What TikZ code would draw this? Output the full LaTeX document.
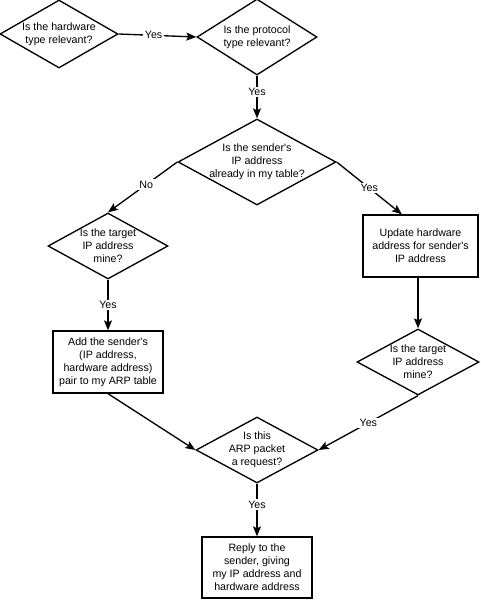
\documentclass[tikz,border=0pt]{standalone}
\usepackage{fontspec}
\setmainfont{Liberation Sans}
\usetikzlibrary{shapes.geometric,arrows.meta,calc}
\begin{document}
\begin{tikzpicture}[x=0.75pt,y=-0.75pt,
  font=\fontsize{8}{9.75}\selectfont,
  dia/.style={diamond,draw,line width=1pt,inner sep=0pt},
  txt/.style={align=center,inner sep=0pt},
  box/.style={rectangle,draw,line width=1pt,align=center,inner sep=0pt},
  conn/.style={line width=1pt,-{Stealth[length=7.5pt,width=6pt,inset=1.5pt]}},
  lbl/.style={fill=white,inner sep=1.2pt}]
\useasboundingbox (0,0) rectangle (480,614);
% diamonds
\node[dia,minimum width=88.5pt,minimum height=51pt] (d1) at (59,34) {};
\node[txt] (d1t) at (d1) {Is the hardware\\type relevant?};
\node[dia,minimum width=90pt,minimum height=57pt] (d2) at (257,37) {};
\node[txt] (d2t) at (d2) {Is the protocol\\type relevant?};
\node[dia,minimum width=118.5pt,minimum height=64.5pt] (d3) at (257,162) {};
\node[txt] (d3t) at (d3) {Is the sender\textquotesingle s\\IP address\\already in my table?};
\node[dia,minimum width=90pt,minimum height=49.5pt] (d4) at (108,246) {};
\node[txt] (d4t) at (d4) {Is the target\\IP address\\mine?};
\node[dia,minimum width=91.5pt,minimum height=49.5pt] (d5) at (418,362) {};
\node[txt] (d5t) at (d5) {Is the target\\IP address\\mine?};
\node[dia,minimum width=91.5pt,minimum height=49.5pt] (d6) at (257,450) {};
\node[txt] (d6t) at (d6) {Is this\\ARP packet\\a request?};
% boxes
\node[box,minimum width=82.5pt,minimum height=46.5pt] (add) at (108,362) {Add the sender\textquotesingle s\\(IP address,\\hardware address)\\pair to my ARP table};
\node[box,minimum width=86.25pt,minimum height=46.5pt] (upd) at (420.5,246) {Update hardware\\address for sender\textquotesingle s\\IP address};
\node[box,minimum width=82.5pt,minimum height=45.75pt] (rep) at (257,567.5) {Reply to the\\sender, giving\\my IP address and\\hardware address};
\coordinate (updin) at ($(upd.north west)!0.34!(upd.north east)$);
\coordinate (updout) at (upd.south -| d5.north);
% connectors
\draw[conn] (d1.east) -- node[lbl,pos=0.45] {Yes} (d2.west);
\draw[conn] (d2.south) -- node[lbl,pos=0.38] {Yes} (d3.north);
\draw[conn] (d3.east) -- node[lbl,pos=0.5] {Yes} (updin);
\draw[conn] (d3.west) -- node[lbl,pos=0.45] {No} (d4.north);
\draw[conn] (d4.south) -- node[lbl,pos=0.5] {Yes} (add.north);
\draw[conn] (updout) -- (d5.north);
\draw[conn] (d5.south) -- node[lbl,pos=0.5] {Yes} (d6.east);
\draw[conn] (add.south) -- (d6.west);
\draw[conn] (d6.south) -- node[lbl,pos=0.4] {Yes} (rep.north);
\end{tikzpicture}
\end{document}
